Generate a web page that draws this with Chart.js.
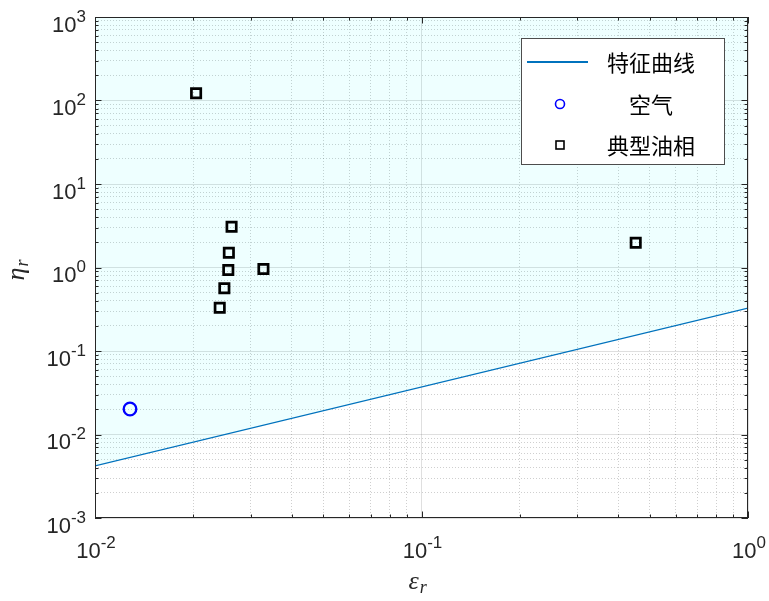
<!DOCTYPE html>
<html>
<head>
<meta charset="utf-8">
<script src="https://cdn.jsdelivr.net/npm/chart.js@4/dist/chart.umd.min.js"></script>
<style>
html, body { margin: 0; padding: 0; background: #ffffff; }
#wrap { width: 769px; height: 601px; }
</style>
</head>
<body>
<div id="wrap"><canvas id="c" width="769" height="601"></canvas></div>
<script>
// Characteristic curve (straight line in log-log space)
const curveX = [0.01, 1];
const curveY = [0.0042, 0.327];
// Air
const airX = [0.0128];
const airY = [0.0202];
// Typical oil phases
const oilX = [0.0204, 0.0262, 0.0257, 0.0256, 0.0328, 0.0249, 0.0241, 0.453];
const oilY = [122, 3.08, 1.50, 0.933, 0.959, 0.564, 0.330, 1.98];
// Legend labels
const seriesNames = ['特征曲线', '空气', '典型油相'];
// Axis ranges and decade tick labels
const xRange = [0.01, 1];
const yRange = [0.001, 1000];
const xDecades = [0.01, 0.1, 1];
const yDecades = [0.001, 0.01, 0.1, 1, 10, 100, 1000];

const INK = '#262626';
const LABEL_FONT = '"Liberation Sans", Arial, sans-serif';

function isDecade(v) {
  const l = Math.log10(v);
  return Math.abs(l - Math.round(l)) < 1e-9;
}

// 1..9 x 10^n ticks over a range
function logTicks(min, max) {
  const out = [];
  const e0 = Math.floor(Math.log10(min) + 1e-9);
  const e1 = Math.ceil(Math.log10(max) - 1e-9);
  for (let e = e0; e <= e1; e++) {
    for (let m = 1; m <= 9; m++) {
      const v = parseFloat((m * Math.pow(10, e)).toPrecision(6));
      if (v >= min * (1 - 1e-9) && v <= max * (1 + 1e-9)) out.push({ value: v });
    }
  }
  return out;
}

function pts(xs, ys) { return xs.map((x, i) => ({ x, y: ys[i] })); }

function logAxis(range, pos, horizontal, major) {
  return {
    type: 'logarithmic',
    position: pos,
    min: range[0],
    max: range[1],
    display: true,
    afterBuildTicks: s => { s.ticks = logTicks(range[0], range[1]); },
    afterFit: s => { if (horizontal) s.height = 0; else s.width = 0; },
    ticks: { display: false },
    border: { display: false, dash: major ? [] : [1, 2] },
    grid: {
      drawTicks: false,
      lineWidth: 1,
      color: c => {
        const d = c.tick && isDecade(c.tick.value);
        if (major) return d ? 'rgba(38,38,38,0.15)' : 'rgba(0,0,0,0)';
        return d ? 'rgba(0,0,0,0)' : 'rgba(38,38,38,0.22)';
      }
    }
  };
}

function drawPow(ctx, exp, x, y, align, baseSize, expSize, rise) {
  const base = '10';
  const es = String(exp);
  ctx.font = baseSize + 'px ' + LABEL_FONT;
  const wb = ctx.measureText(base).width;
  ctx.font = expSize + 'px ' + LABEL_FONT;
  const we = ctx.measureText(es).width;
  const total = wb + we;
  let sx = align === 'right' ? x - total : x - total / 2;
  ctx.textAlign = 'left';
  ctx.textBaseline = 'alphabetic';
  ctx.font = baseSize + 'px ' + LABEL_FONT;
  ctx.fillText(base, sx, y);
  ctx.font = expSize + 'px ' + LABEL_FONT;
  ctx.fillText(es, sx + wb, y - rise);
}

// Inside tick marks, frame, tick labels, axis titles and legend
const decorations = {
  id: 'decorations',
  afterDatasetsDraw(chart) {
    const { ctx, chartArea: a, scales } = chart;
    ctx.save();
    ctx.strokeStyle = INK;
    ctx.lineWidth = 1;
    ctx.beginPath();
    for (const t of scales.x.ticks) {
      const px = Math.round(scales.x.getPixelForValue(t.value)) + 0.5;
      const len = isDecade(t.value) ? 6.5 : 3.5;
      ctx.moveTo(px, a.bottom); ctx.lineTo(px, a.bottom - len);
      ctx.moveTo(px, a.top); ctx.lineTo(px, a.top + len);
    }
    for (const t of scales.y.ticks) {
      const py = Math.round(scales.y.getPixelForValue(t.value)) + 0.5;
      const len = isDecade(t.value) ? 6.5 : 3.5;
      ctx.moveTo(a.left, py); ctx.lineTo(a.left + len, py);
      ctx.moveTo(a.right, py); ctx.lineTo(a.right - len, py);
    }
    ctx.stroke();
    ctx.strokeRect(Math.round(a.left) + 0.5, Math.round(a.top) + 0.5,
      Math.round(a.right - a.left) - 1, Math.round(a.bottom - a.top) - 1);
    ctx.restore();
  },
  afterDraw(chart) {
    const { ctx, chartArea: a, scales } = chart;
    ctx.save();
    ctx.fillStyle = INK;
    for (const v of yDecades) {
      const py = scales.y.getPixelForValue(v);
      drawPow(ctx, Math.round(Math.log10(v)), a.left - 9, py + 14.5, 'right', 22, 17, 10);
    }
    for (const v of xDecades) {
      const px = scales.x.getPixelForValue(v);
      drawPow(ctx, Math.round(Math.log10(v)), px + 1, a.bottom + 40, 'center', 22, 17, 10);
    }

    // axis titles
    ctx.textBaseline = 'alphabetic';
    ctx.textAlign = 'left';
    const serif = '"Liberation Serif", "DejaVu Serif", serif';
    // x title: epsilon_r
    ctx.font = 'italic 26px ' + serif;
    const we = ctx.measureText('ε').width;
    const xt = (a.left + a.right) / 2 - 13;
    ctx.fillText('ε', xt, 589);
    ctx.font = 'italic 18px ' + serif;
    ctx.fillText('r', xt + we + 1, 593);
    // y title: eta_r
    ctx.translate(24, (a.top + a.bottom) / 2 + 1);
    ctx.rotate(-Math.PI / 2);
    ctx.font = 'italic 26px ' + serif;
    const wh = ctx.measureText('η').width;
    ctx.fillText('η', -12, 0);
    ctx.font = 'italic 18px ' + serif;
    ctx.fillText('r', -12 + wh + 1, 4);
    ctx.restore();

    // legend
    const ds = chart.data.datasets;
    ctx.save();
    const L = 521.5, T = 38.5, R = 724.5, B = 164.5;
    ctx.fillStyle = '#ffffff';
    ctx.fillRect(L, T, R - L, B - T);
    ctx.strokeStyle = '#4d4d4d';
    ctx.lineWidth = 1;
    ctx.strokeRect(L, T, R - L, B - T);
    const rows = [62, 104, 145];
    const textX = 651;
    const markX = 560;
    ctx.font = '22px "Noto Sans CJK SC", sans-serif';
    ctx.textAlign = 'center';
    ctx.textBaseline = 'middle';
    ctx.fillStyle = '#000000';
    ds.forEach((d, i) => {
      const y = rows[i];
      ctx.fillText(d.label, textX, y + 1);
      ctx.strokeStyle = d.borderColor;
      if (i === 0) {
        ctx.lineWidth = 2;
        ctx.beginPath(); ctx.moveTo(527, y); ctx.lineTo(588, y); ctx.stroke();
      } else if (d.pointStyle === 'circle') {
        ctx.lineWidth = 1.6;
        ctx.beginPath(); ctx.arc(markX, y, 4.5, 0, Math.PI * 2); ctx.stroke();
      } else {
        ctx.lineWidth = 1.6;
        ctx.strokeRect(markX - 4, y - 4, 8, 8);
      }
    });
    ctx.restore();
  }
};

new Chart(document.getElementById('c'), {
  type: 'scatter',
  data: {
    datasets: [
      {
        type: 'line',
        label: seriesNames[0],
        data: pts(curveX, curveY),
        borderColor: '#0072BD',
        borderWidth: 1.3,
        pointRadius: 0,
        fill: 'end',
        backgroundColor: 'rgba(0,255,255,0.065)',
        tension: 0
      },
      {
        label: seriesNames[1],
        data: pts(airX, airY),
        pointStyle: 'circle',
        pointRadius: 6.3,
        borderWidth: 2.3,
        borderColor: '#0000FF',
        backgroundColor: 'rgba(0,0,0,0)'
      },
      {
        label: seriesNames[2],
        data: pts(oilX, oilY),
        pointStyle: 'rect',
        pointRadius: 6.6,
        borderWidth: 2.7,
        borderColor: '#000000',
        backgroundColor: 'rgba(0,0,0,0)'
      }
    ]
  },
  options: {
    responsive: false,
    animation: false,
    devicePixelRatio: 1,
    layout: { padding: { left: 95, top: 17, right: 21, bottom: 83 } },
    scales: {
      x: logAxis(xRange, 'bottom', true, false),
      xMajor: logAxis(xRange, 'bottom', true, true),
      y: logAxis(yRange, 'left', false, false),
      yMajor: logAxis(yRange, 'left', false, true)
    },
    plugins: {
      legend: { display: false },
      tooltip: { enabled: false },
      filler: { drawTime: 'beforeDatasetsDraw' }
    }
  },
  plugins: [decorations]
});
</script>
</body>
</html>
